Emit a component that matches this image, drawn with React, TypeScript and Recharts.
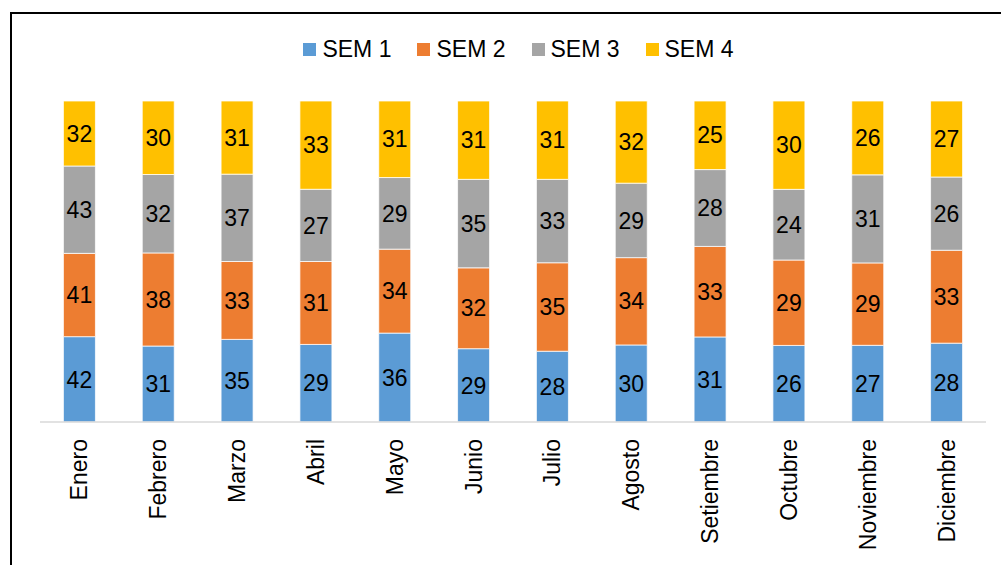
import React from 'react';
import { BarChart, Bar, XAxis, YAxis, Legend, LabelList } from 'recharts';

const months = ['Enero', 'Febrero', 'Marzo', 'Abril', 'Mayo', 'Junio', 'Julio', 'Agosto', 'Setiembre', 'Octubre', 'Noviembre', 'Diciembre'];
const sem1 = [42, 31, 35, 29, 36, 29, 28, 30, 31, 26, 27, 28];
const sem2 = [41, 38, 33, 31, 34, 32, 35, 34, 33, 29, 29, 33];
const sem3 = [43, 32, 37, 27, 29, 35, 33, 29, 28, 24, 31, 26];
const sem4 = [32, 30, 31, 33, 31, 31, 31, 32, 25, 30, 26, 27];

const seriesNames = ['SEM 1', 'SEM 2', 'SEM 3', 'SEM 4'];
const colors = ['#5B9BD5', '#ED7D31', '#A5A5A5', '#FFC000'];

const data = months.map((m, i) => ({
  month: m,
  s1: sem1[i],
  s2: sem2[i],
  s3: sem3[i],
  s4: sem4[i],
}));

const FONT = 'Arial, "Liberation Sans", sans-serif';

// rotated month labels, reading bottom to top
const MonthTick = (props: any) => {
  const { x, y, payload } = props;
  return (
    <text
      transform={`translate(${x},${y + 9}) rotate(-90)`}
      y={8}
      textAnchor="end"
      fontSize={23}
      fontFamily={FONT}
      fill="#000"
    >
      {payload.value}
    </text>
  );
};

const LegendContent = () => (
  <div style={{ display: 'flex', justifyContent: 'center', fontFamily: FONT, fontSize: 23, color: '#000', paddingLeft: 36 }}>
    {seriesNames.map((name, i) => (
      <div key={name} style={{ display: 'flex', alignItems: 'center', marginRight: i < 3 ? 26 : 0 }}>
        <span style={{ width: 13, height: 13, background: colors[i], display: 'inline-block', marginRight: 6 }} />
        <span>{name}</span>
      </div>
    ))}
  </div>
);

const keys = ['s1', 's2', 's3', 's4'];

export default function App() {
  return (
    <div style={{ position: 'absolute', left: 0, top: 0, width: 1001, height: 565, overflow: 'hidden', background: '#fff' }}>
      <div
        style={{
          position: 'absolute',
          left: 10,
          top: 12,
          width: 1100,
          height: 700,
          border: '2px solid #000',
          boxSizing: 'border-box',
        }}
      />
      <div style={{ position: 'absolute', left: 0, top: 0 }}>
        <BarChart
          width={1001}
          height={565}
          data={data}
          stackOffset="expand"
          barCategoryGap="29.7%"
          margin={{ top: 101, right: 15, bottom: 0, left: 40 }}
        >
          <XAxis
            dataKey="month"
            axisLine={{ stroke: '#D9D9D9', strokeWidth: 1.5 }}
            tickLine={false}
            interval={0}
            height={143}
            tick={<MonthTick />}
          />
          <YAxis hide domain={[0, 1]} />
          <Legend
            verticalAlign="middle"
            align="center"
            wrapperStyle={{ top: 36, left: 0, width: 1001 }}
            content={<LegendContent />}
          />
          {keys.map((k, i) => (
            <Bar
              key={k}
              dataKey={k}
              name={seriesNames[i]}
              stackId="a"
              fill={colors[i]}
              stroke="#fff"
              strokeWidth={0.75}
              isAnimationActive={false}
            >
              <LabelList dataKey={k} position="center" fontSize={23} fontFamily={FONT} fill="#000" />
            </Bar>
          ))}
        </BarChart>
      </div>
    </div>
  );
}
